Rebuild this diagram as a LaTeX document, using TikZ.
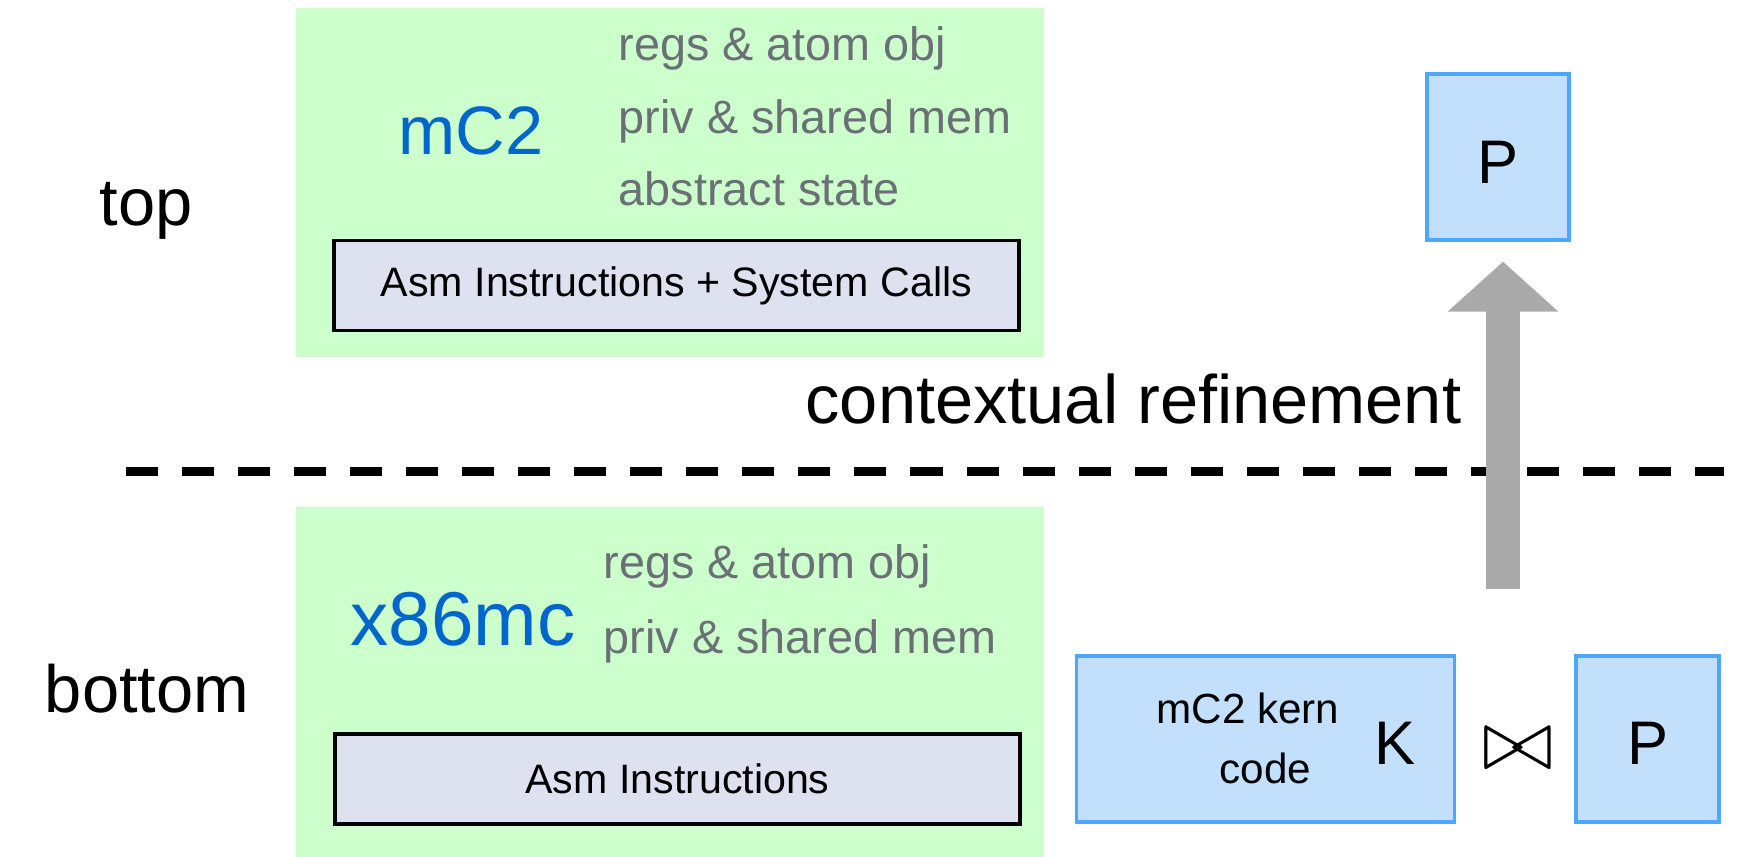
\documentclass[tikz,border=0pt]{standalone}
\usepackage{fontspec}
\setmainfont{Liberation Sans}
\usetikzlibrary{arrows.meta}
\definecolor{boxgreen}{RGB}{204,255,204}
\definecolor{asmfill}{RGB}{221,225,240}
\definecolor{procfill}{RGB}{194,224,252}
\definecolor{procline}{RGB}{77,166,255}
\definecolor{notegray}{RGB}{106,112,118}
\definecolor{titleblue}{RGB}{0,102,204}
\definecolor{arrowgray}{RGB}{170,170,170}

\begin{document}
\begin{tikzpicture}[x=0.01cm, y=-0.01cm,
  machine/.style={fill=boxgreen, minimum width=7.48cm, inner sep=0pt},
  isa/.style={draw=black, line width=1pt, fill=asmfill, minimum width=6.85cm, minimum height=0.9cm, font=\fontsize{11.7}{14}\selectfont},
  proc/.style={draw=procline, line width=0.9pt, fill=procfill, minimum height=1.66cm, inner sep=0pt},
  memnote/.style={anchor=base west, text=notegray, font=\fontsize{13.3}{16}\selectfont, inner sep=0pt},
  layername/.style={anchor=base, text=titleblue, inner sep=0pt},
  sidelabel/.style={anchor=base, font=\fontsize{19}{23}\selectfont, inner sep=0pt},
  letter/.style={anchor=base, font=\fontsize{17.5}{21}\selectfont, inner sep=0pt}]
\useasboundingbox (0,0) rectangle (1743,856);

% Top layer
\node[machine, minimum height=3.49cm] (topbox) at (670,182.5) {};
\node[layername, font=\fontsize{19.5}{23}\selectfont] (mctwo) at (471,154) {mC2};
\node[memnote] (topregs) at (618,60) {regs \& atom obj};
\node[memnote] (topmem) at (618,133) {priv \& shared mem};
\node[memnote] (topstate) at (618,205) {abstract state};
\node[isa] (topasm) at (676.5,285.5) {Asm Instructions + System Calls};
\node[sidelabel] (toplabel) at (146,225) {top};

% Bottom layer
\node[machine, minimum height=3.53cm] (botbox) at (670,683.5) {};
\node[layername, font=\fontsize{21.7}{26}\selectfont] (xmc) at (463,645) {x86mc};
\node[memnote] (botregs) at (603,578) {regs \& atom obj};
\node[memnote] (botmem) at (603,653) {priv \& shared mem};
\node[isa] (botasm) at (677.5,779) {Asm Instructions};
\node[sidelabel] (botlabel) at (147,712) {bottom};

% Separator
\draw[line width=0.09cm, dash pattern=on 0.32cm off 0.24cm] (126,471) -- (1724,471);
\node[sidelabel, anchor=base east, font=\fontsize{19.5}{23}\selectfont] (refine) at (1462,423) {contextual refinement};

% Kernel and program
\node[proc, minimum width=3.77cm] (kern) at (1265.5,739) {};
\node[anchor=base, font=\fontsize{12}{14}\selectfont, inner sep=0pt] (kerntop) at (1248,723) {mC2 kern};
\node[anchor=base, font=\fontsize{12}{14}\selectfont, inner sep=0pt] (kernbot) at (1265.5,783) {code};
\node[letter] (kname) at (1395.5,764) {K};
\node (join) at (1518,749) {\fontsize{25}{25}\selectfont$\bowtie$};
\node[proc, minimum width=1.43cm] (pbot) at (1647.5,739) {};
\node[letter] (pbotname) at (1648,764) {P};
\node[proc, minimum width=1.42cm] (ptop) at (1498,157) {};
\node[letter] (ptopname) at (1498,183) {P};

% Refinement arrow
\coordinate (foot) at (1503,589);
\draw[arrowgray, line width=0.34cm, -{Triangle[length=0.5cm, width=1.08cm]}, shorten >=0.2cm] (foot) -- (foot |- ptop.south);
\end{tikzpicture}
\end{document}
